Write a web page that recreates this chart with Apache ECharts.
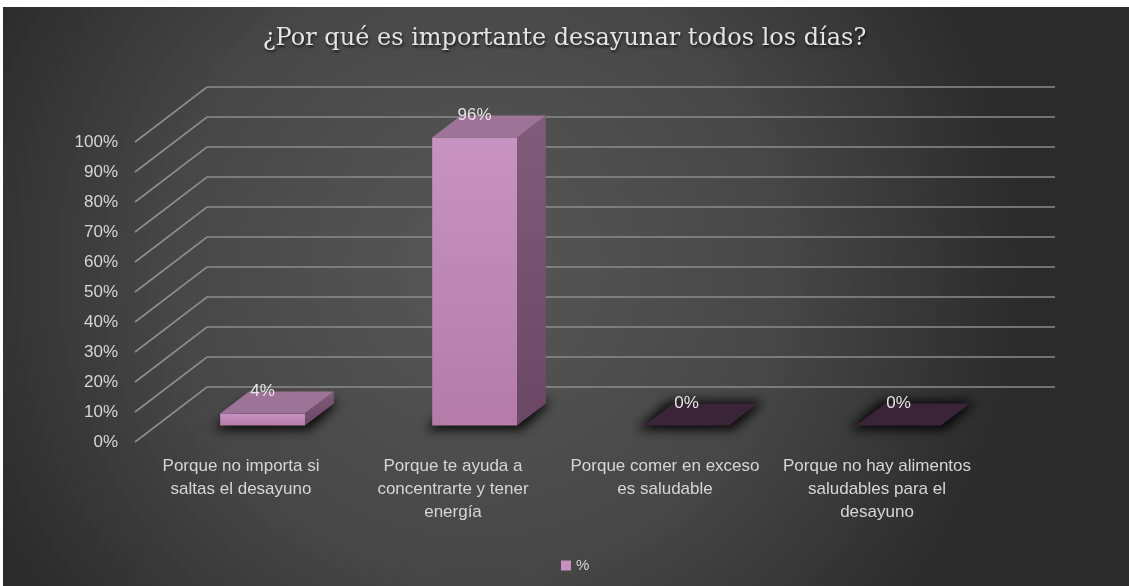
<!DOCTYPE html>
<html>
<head>
<meta charset="utf-8">
<script src="https://cdn.jsdelivr.net/npm/echarts@6/dist/echarts.min.js"></script>
<style>
  html, body { margin: 0; padding: 0; background: #ffffff; }
  #chart { width: 1129px; height: 586px; }
</style>
</head>
<body>
<div id="chart"></div>
<script>
// Answer categories (line breaks as shown under the axis)
const categories = [
  'Porque no importa si\nsaltas el desayuno',
  'Porque te ayuda a\nconcentrarte y tener\nenergía',
  'Porque comer en exceso\nes saludable',
  'Porque no hay alimentos\nsaludables para el\ndesayuno'
];
// Share of answers, in percent
const percentValues = [4, 96, 0, 0];
// Value-axis ticks (percent)
const yTicks = [0, 10, 20, 30, 40, 50, 60, 70, 80, 90, 100];

// Oblique projection: full floor depth as a pixel vector (right and up)
const DEPTH_X = 72;
const DEPTH_Y = -55;
// Columns occupy the middle of the depth and 40% of each category band
const COL_FRONT = 0.3;
const COL_BACK = 0.7;
const COL_WIDTH = 0.4;
// The shadow shape is drawn off-canvas so only its blurred shadow lands on the chart
const SHADOW_SHIFT = 3000;

const chart = echarts.init(document.getElementById('chart'), null, { renderer: 'canvas' });

function renderGridLine(params, api) {
  const cs = params.coordSys;
  const y = api.coord([0, api.value(1)])[1];
  const x0 = cs.x;
  const x1 = cs.x + cs.width;
  return {
    type: 'polyline',
    shape: {
      points: [
        [x0, y],
        [x0 + DEPTH_X, y + DEPTH_Y],
        [x1 + DEPTH_X, y + DEPTH_Y]
      ]
    },
    style: { stroke: '#8c8c8c', lineWidth: 1.7, fill: null },
    silent: true
  };
}

function renderColumn(params, api) {
  const cat = api.value(0);
  const val = api.value(1);
  const base = api.coord([cat, 0]);
  const top = api.coord([cat, val]);
  const bw = api.size([1, 0])[0] * COL_WIDTH;
  const fx = DEPTH_X * COL_FRONT, fy = DEPTH_Y * COL_FRONT;
  const dx = DEPTH_X * (COL_BACK - COL_FRONT), dy = DEPTH_Y * (COL_BACK - COL_FRONT);
  const xl = base[0] - bw / 2 + fx;
  const xr = xl + bw;
  const yb = base[1] + fy;
  const yt = top[1] + fy;
  const flat = yb - yt < 0.5;

  const children = [];
  // soft contact shadow around the column footprint
  const pad = 4;
  const footprint = [
    [xl - pad - 3, yb + pad],
    [xr + pad, yb + pad],
    [xr + dx + pad + 2, yb + dy - pad + 2],
    [xl + dx - pad, yb + dy - pad + 2]
  ].map(p => [p[0] + SHADOW_SHIFT, p[1]]);
  children.push({
    type: 'polygon',
    shape: { points: footprint },
    style: {
      fill: '#000',
      shadowBlur: 12,
      shadowColor: 'rgba(0,0,0,0.95)',
      shadowOffsetX: -SHADOW_SHIFT,
      shadowOffsetY: 0
    },
    silent: true
  });
  if (!flat) {
    // front face
    children.push({
      type: 'rect',
      shape: { x: xl, y: yt, width: bw, height: yb - yt },
      style: {
        fill: new echarts.graphic.LinearGradient(0, 0, 0, 1, [
          { offset: 0, color: '#c793c0' },
          { offset: 1, color: '#b47ba9' }
        ])
      }
    });
    // right side face
    children.push({
      type: 'polygon',
      shape: { points: [[xr, yt], [xr + dx, yt + dy], [xr + dx, yb + dy], [xr, yb]] },
      style: {
        fill: new echarts.graphic.LinearGradient(0, 0, 0, 1, [
          { offset: 0, color: '#815c7a' },
          { offset: 1, color: '#6c4665' }
        ])
      }
    });
  }
  // top face
  children.push({
    type: 'polygon',
    shape: { points: [[xl, yt], [xr, yt], [xr + dx, yt + dy], [xl + dx, yt + dy]] },
    style: { fill: flat ? '#3a2437' : '#9d7497' }
  });
  // value label above the column
  children.push({
    type: 'text',
    style: {
      x: base[0] + fx,
      y: yt + dy,
      text: val + '%',
      fill: '#e6e6e6',
      font: '17px "Liberation Sans", Arial, sans-serif',
      align: 'center',
      verticalAlign: 'middle'
    },
    silent: true
  });
  return { type: 'group', children: children };
}

const option = {
  animation: false,
  backgroundColor: 'transparent',
  graphic: [{
    type: 'rect',
    z: -10,
    silent: true,
    shape: { x: 3, y: 7, width: 1126, height: 579 },
    style: {
      fill: new echarts.graphic.RadialGradient(0.42, 0.45, 0.95, [
        { offset: 0, color: '#575757' },
        { offset: 0.55, color: '#474747' },
        { offset: 1, color: '#2b2b2b' }
      ])
    }
  }],
  title: {
    text: '¿Por qué es importante desayunar todos los días?',
    left: 'center',
    top: 22,
    textStyle: {
      fontFamily: '"DejaVu Serif", serif',
      fontWeight: 'normal',
      fontSize: 24,
      color: '#e4e4e4',
      textShadowColor: 'rgba(0,0,0,0.7)',
      textShadowBlur: 3,
      textShadowOffsetX: 1,
      textShadowOffsetY: 2
    }
  },
  legend: {
    data: ['%'],
    left: 556,
    top: 553,
    icon: 'rect',
    itemWidth: 10,
    itemHeight: 10,
    itemGap: 10,
    textStyle: { color: '#d6d6d6', fontSize: 15, fontFamily: '"Liberation Sans", Arial, sans-serif' }
  },
  grid: {
    left: 135,
    top: 142,
    width: 848,
    height: 300,
    containLabel: false,
    outerBoundsMode: 'none'
  },
  xAxis: {
    type: 'category',
    data: categories,
    axisLine: { show: false },
    axisTick: { show: false },
    splitLine: { show: false },
    axisLabel: {
      interval: 0,
      margin: 13,
      color: '#d6d6d6',
      fontSize: 17,
      lineHeight: 23,
      fontFamily: '"Liberation Sans", Arial, sans-serif',
      align: 'center'
    }
  },
  yAxis: {
    type: 'value',
    min: 0,
    max: 100,
    interval: 10,
    axisLine: { show: false },
    axisTick: { show: false },
    splitLine: { show: false },
    axisLabel: {
      formatter: '{value}%',
      margin: 17,
      color: '#d6d6d6',
      fontSize: 17,
      fontFamily: '"Liberation Sans", Arial, sans-serif'
    }
  },
  series: [
    {
      name: 'grid',
      type: 'custom',
      renderItem: renderGridLine,
      data: yTicks.map(v => [0, v]),
      encode: { x: 0, y: 1 },
      z: 1,
      silent: true
    },
    {
      name: '%',
      type: 'custom',
      renderItem: renderColumn,
      data: percentValues.map((v, i) => [i, v]),
      encode: { x: 0, y: 1 },
      itemStyle: { color: '#c790c0' },
      z: 3
    }
  ]
};

chart.setOption(option);
</script>
</body>
</html>
